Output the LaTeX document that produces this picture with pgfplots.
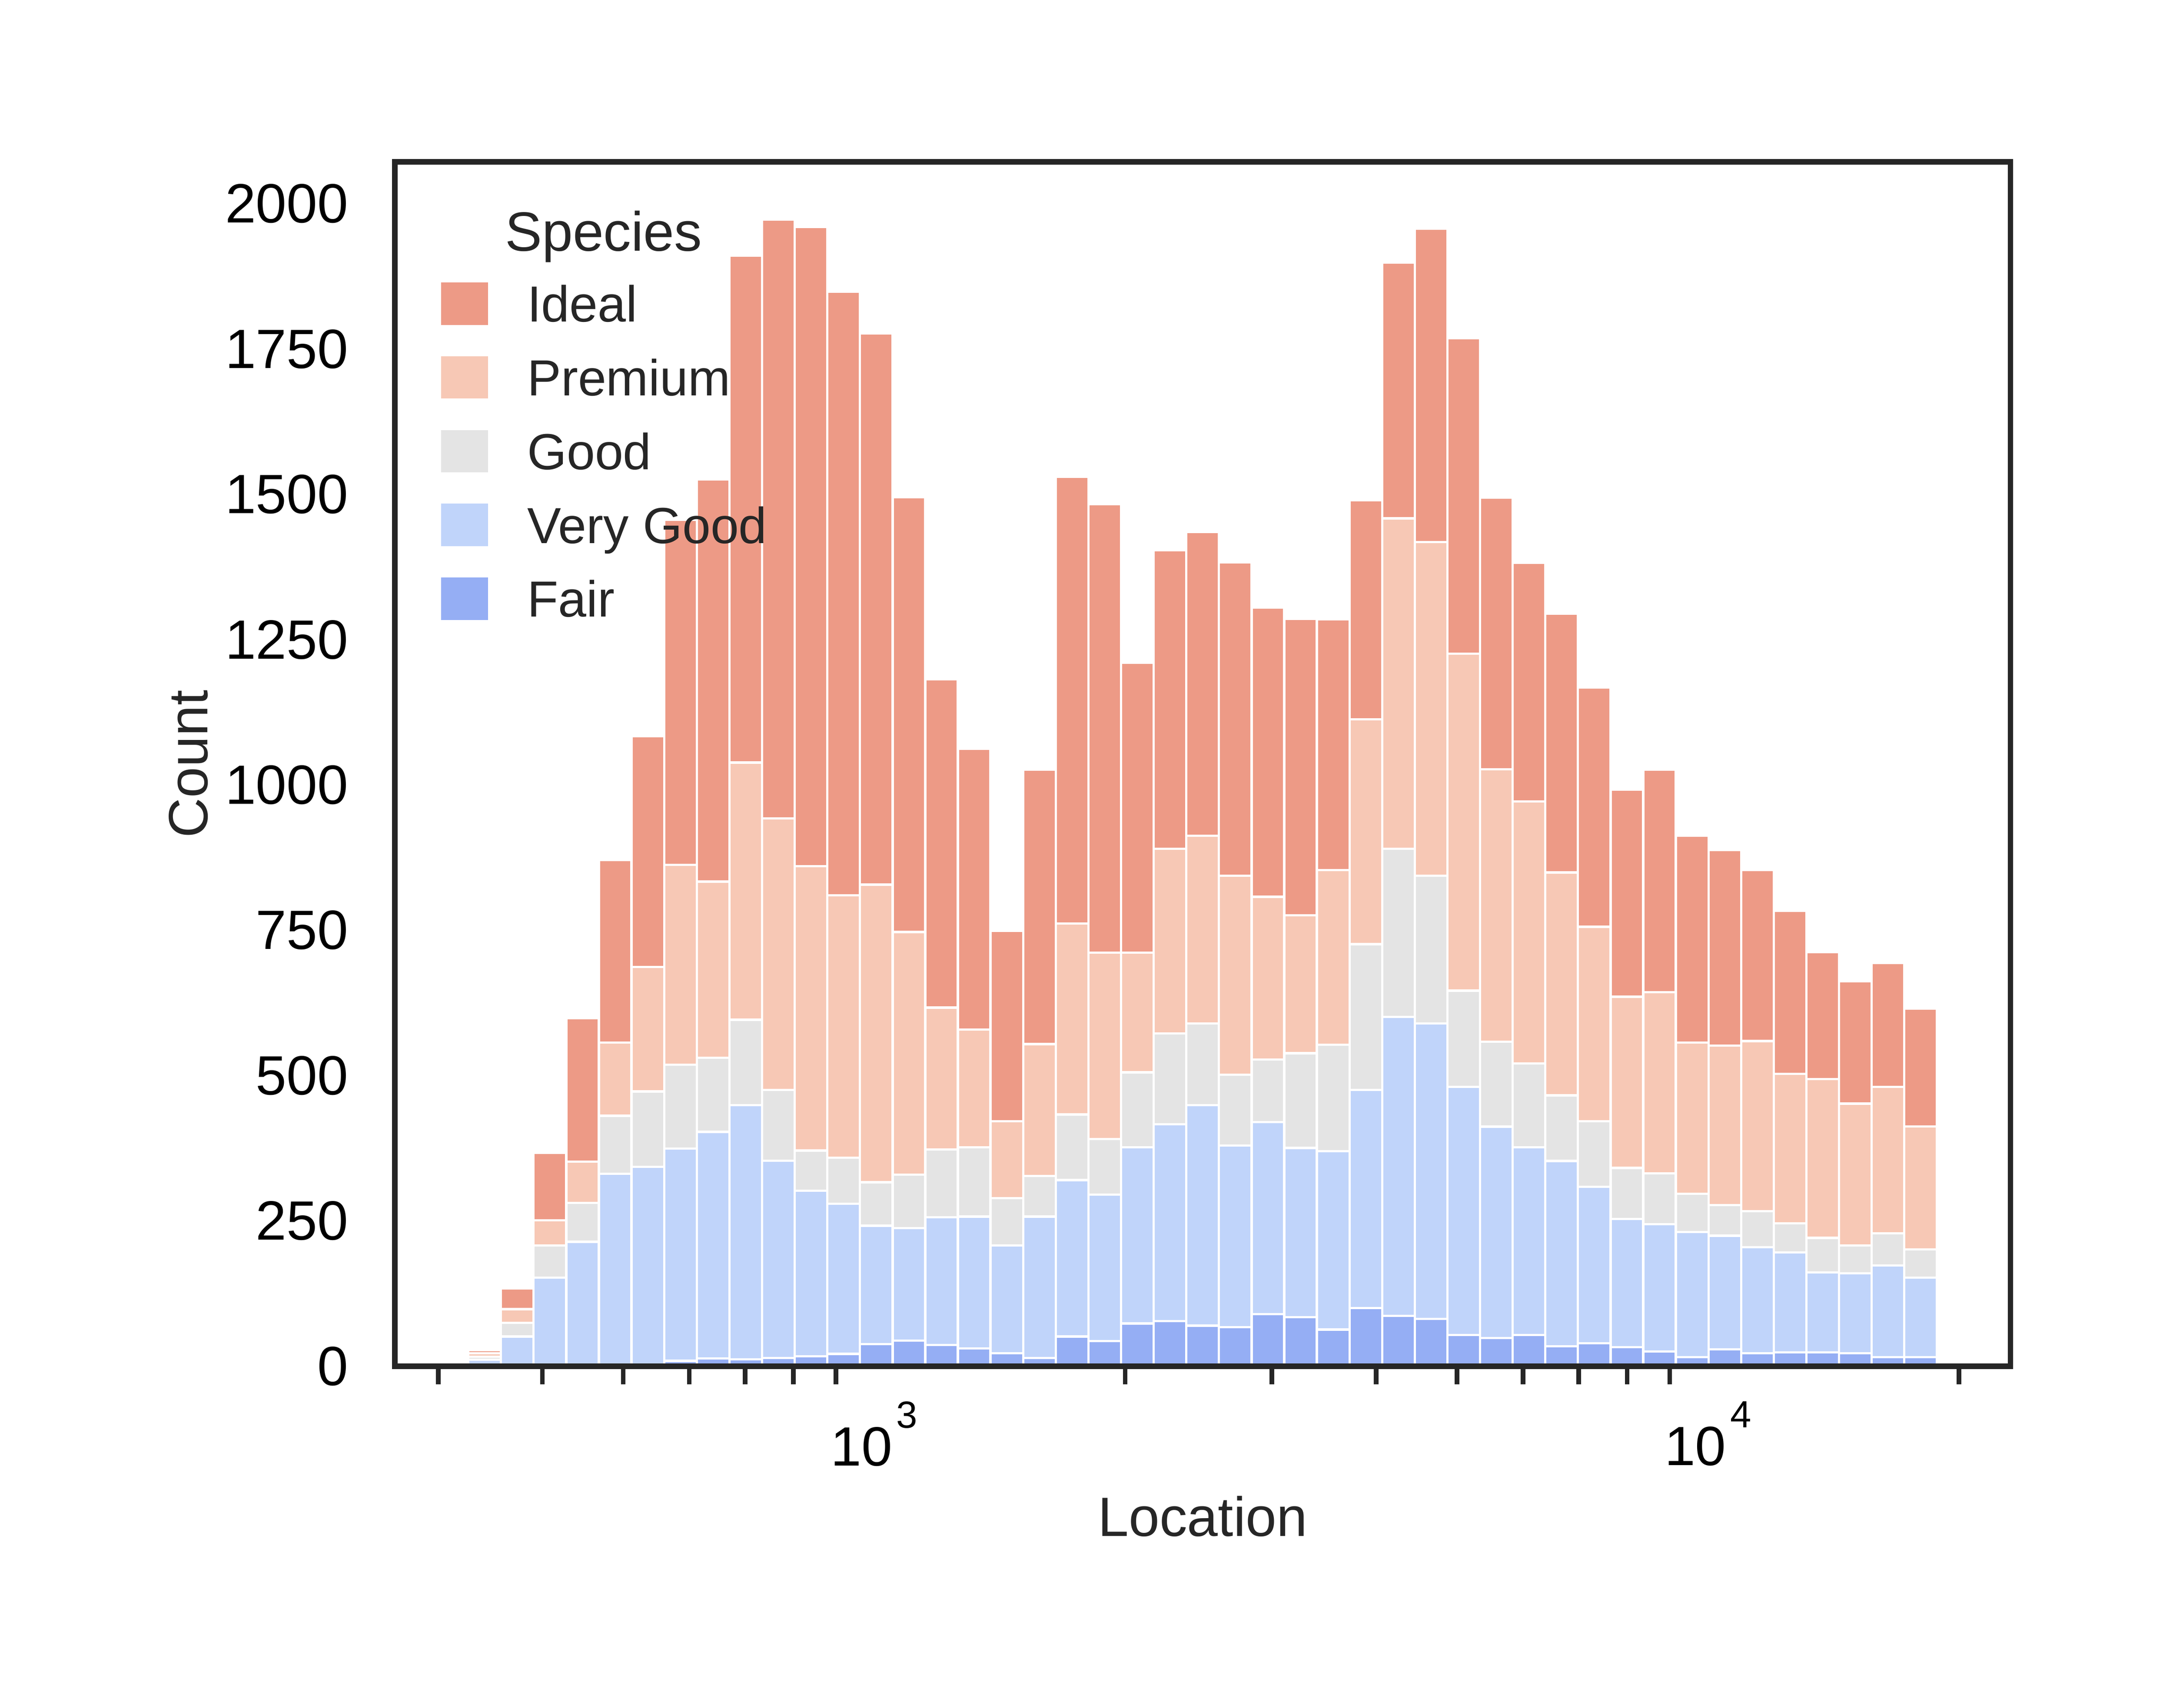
\documentclass[border=0pt]{standalone}
\usepackage{fontspec}
\setmainfont{Liberation Sans}
\usepackage{pgfplots}
\usepackage{pgfplotstable}
\pgfplotsset{compat=1.18}
\definecolor{idealc}{HTML}{ED9A86}
\definecolor{premc}{HTML}{F7C8B5}
\definecolor{goodc}{HTML}{E4E4E4}
\definecolor{vgc}{HTML}{C0D4FA}
\definecolor{fairc}{HTML}{95AEF4}
\definecolor{c262626}{HTML}{262626}
\pgfplotsset{patchleg/.style={legend image code/.code={\fill[##1] (0pt,-4.6pt) rectangle (10.2pt,4.6pt);}}}
% x = log10 of the bin's left edge; columns = cumulative stacked tops (Fair, +Very Good, +Good, +Premium, +Ideal)
\pgfplotstableread{
x fair vg good prem ideal
2.51322 0 11.2 16.3 22.4 27.8
2.55236 0 51.0 74.3 98.0 133.8
2.59151 0 152.3 207.5 250.8 367
2.63065 0 214 281 351.9 599
2.66980 1 330.9 430.7 556.7 871
2.70894 2 342.7 472.7 686.7 1084
2.74808 9.1 374.2 518.6 862.6 1456
2.78723 13.1 403 530.5 833.8 1526
2.82637 11.8 449 596 1038.6 1911
2.86551 13.8 353.2 475.3 942.7 1973
2.90466 16.8 302 371 860 1960
2.94380 21.0 279.6 358.4 810 1849
2.98294 37.8 241.6 316.4 828.5 1777
3.02209 44.1 237.7 329.6 747 1495
3.06123 36.4 256 372.9 617 1182
3.10038 30.6 257.4 376.8 579 1062
3.13952 22.4 207.5 288.9 421.5 749
3.17866 14.0 257.4 327 554 1026
3.21781 51 320 433 761.5 1530
3.25695 43 295 391 711.6 1483
3.29609 73.5 376.8 505.5 711.6 1210
3.33524 77.5 416 572.5 890 1404
3.37438 69.6 449 589.6 912.5 1435
3.41353 67 379.5 501.6 844 1383
3.45267 89.3 420 527.8 807.5 1305
3.49181 84 375.5 538.3 776 1286
3.53096 63 370 552.8 853.5 1285
3.57010 99.8 475.3 726 1113 1490
3.60924 86.7 601 890 1458.7 1899
3.64839 81.4 589.5 844 1418 1957
3.68753 53.8 480.5 646 1226 1769
3.72668 48.6 412 558 1026.8 1494
3.76582 53.8 376.8 521 971.6 1382
3.80496 34 353 466 849.5 1295
3.84411 39.4 308.5 421.5 756 1168
3.88325 32.8 253.4 341 635.5 992
3.92239 25 244.2 331.8 643.4 1026
3.96154 15.7 231 296.7 556.7 913
4.00068 28.9 224.5 277 551.5 888
4.03982 22.3 204.8 266.6 559.3 854
4.07897 23.6 195.6 245.5 502.9 783
4.11811 23.6 161.5 220.6 493.7 712
4.15726 22.3 160 207.5 451.7 662
4.19640 15.7 173.3 228.5 480.6 694
4.23554 15.7 152.3 200.8 412.3 615
4.27469 15.7 152.3 200.8 412.3 615
}\data
\begin{document}
\begin{tikzpicture}
\path[use as bounding box] (0,0) rectangle (471.05pt,370.26pt);
\begin{axis}[
  at={(85.6pt,74.05pt)}, anchor=south west,
  scale only axis, width=350.2pt, height=261.1pt,
  xmin=2.425125, xmax=4.362782, ymin=0, ymax=2072,
  axis on top,
  axis line style={line width=1.2pt, draw=c262626},
  xtick={3,4},
  xticklabels={{10\hspace{0.9pt}\raisebox{8.2pt}{\fontsize{8.2}{10}\selectfont 3}},{10\hspace{0.9pt}\raisebox{8.2pt}{\fontsize{8.2}{10}\selectfont 4}}},
  minor xtick={2.47712,2.60206,2.69897,2.77815,2.84510,2.90309,2.95424,3.30103,3.47712,3.60206,3.69897,3.77815,3.84510,3.90309,3.95424,4.30103},
  ytick={0,250,500,750,1000,1250,1500,1750,2000},
  yticklabels={0,250,500,750,1000,1250,1500,1750,2000},
  major tick length=0pt, minor tick length=3.9pt, tick align=outside,
  xtick pos=left, ytick pos=left,
  minor tick style={line width=1pt, draw=c262626},
  xticklabel style={anchor=north, inner sep=0pt, yshift=-7.5pt, font=\fontsize{12}{14}\selectfont, text=black},
  yticklabel style={anchor=east, inner sep=0pt, xshift=-9.9pt, font=\fontsize{12}{14}\selectfont, text=black},
  xlabel={Location},
  xlabel style={at={(axis description cs:0.5,-0.10724)}, anchor=north, inner sep=0pt, font=\fontsize{12}{14}\selectfont, text=c262626},
  ylabel={Count},
  ylabel style={at={(axis description cs:-0.1151,0.5)}, anchor=south, inner sep=0pt, font=\fontsize{12}{14}\selectfont, text=c262626},
  legend cell align=left,
  legend style={at={(0.02856,0.9563)}, anchor=north west, draw=none, fill=none,
    inner sep=0pt, outer sep=0pt, row sep=6.8pt, column sep=8.5pt,
    font=\fontsize{11}{13}\selectfont, text=c262626,
    nodes={inner sep=0pt, text height=7.9pt, text depth=0pt}},
]
\addplot[ybar interval, fill=idealc, draw=white, line width=0.5pt, forget plot] table[x=x, y=ideal] {\data};
\addplot[ybar interval, fill=premc, draw=white, line width=0.5pt, forget plot] table[x=x, y=prem] {\data};
\addplot[ybar interval, fill=goodc, draw=white, line width=0.5pt, forget plot] table[x=x, y=good] {\data};
\addplot[ybar interval, fill=vgc, draw=white, line width=0.5pt, forget plot] table[x=x, y=vg] {\data};
\addplot[ybar interval, fill=fairc, draw=white, line width=0.5pt, forget plot] table[x=x, y=fair] {\data};
\addlegendimage{empty legend}
\addlegendentry{\hspace*{-4.8pt}\fontsize{12}{14}\selectfont Species}
\addlegendimage{patchleg, fill=idealc, draw=none}
\addlegendentry{Ideal}
\addlegendimage{patchleg, fill=premc, draw=none}
\addlegendentry{Premium}
\addlegendimage{patchleg, fill=goodc, draw=none}
\addlegendentry{Good}
\addlegendimage{patchleg, fill=vgc, draw=none}
\addlegendentry{Very Good}
\addlegendimage{patchleg, fill=fairc, draw=none}
\addlegendentry{Fair}
\end{axis}
\end{tikzpicture}
\end{document}
